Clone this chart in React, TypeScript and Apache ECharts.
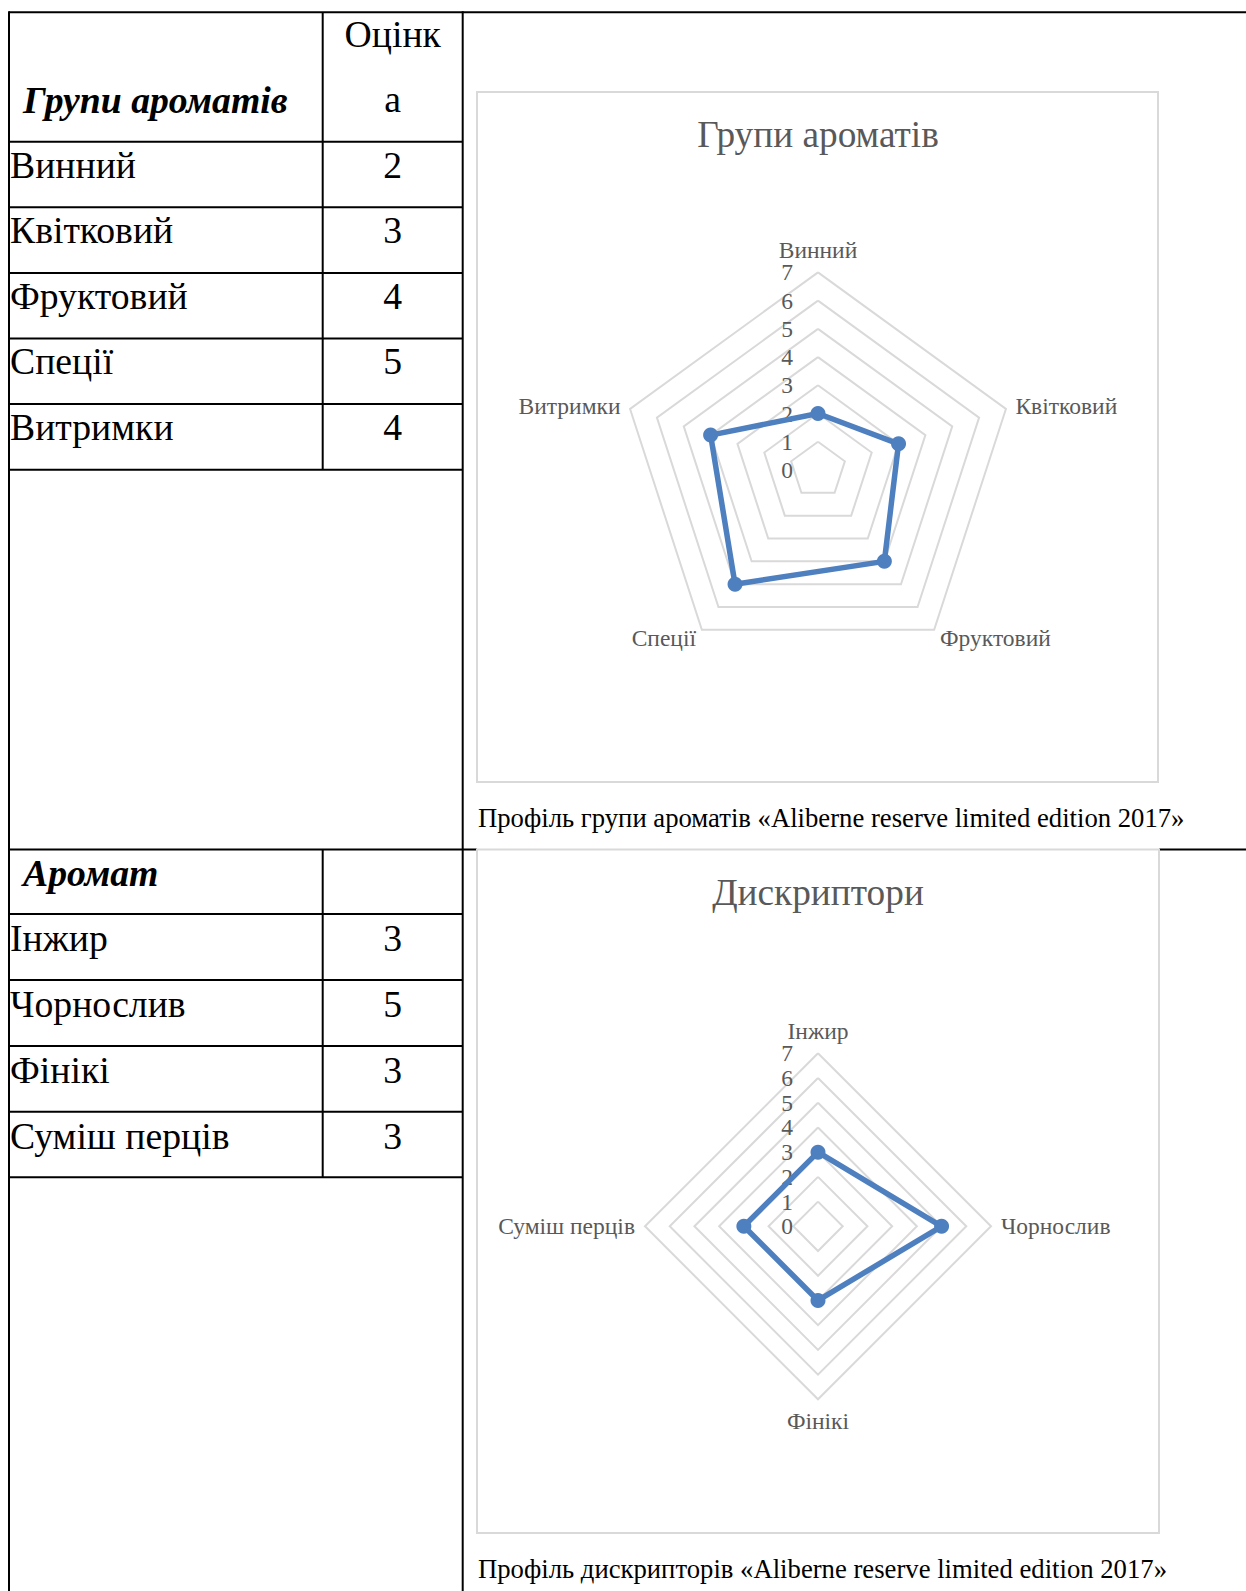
import React, { useEffect, useRef } from 'react';
import * as echarts from 'echarts';

// ---- data ----
const aromaGroups = ['Винний', 'Квітковий', 'Фруктовий', 'Спеції', 'Витримки'];
const aromaGroupScores = [2, 3, 4, 5, 4];
const descriptorNames = ['Інжир', 'Чорнослив', 'Фінікі', 'Суміш перців'];
const descriptorScores = [3, 5, 3, 3];
const scaleMin = 0;
const scaleMax = 7;

const groupsHeader = 'Групи ароматів';
const scoreHeaderLines = ['Оцінк', 'а'];
const descriptorHeader = 'Аромат';
const groupsTitle = 'Групи ароматів';
const descriptorsTitle = 'Дискриптори';
const groupsCaption = 'Профіль групи ароматів «Aliberne reserve limited edition 2017»';
const descriptorsCaption = 'Профіль дискрипторів «Aliberne reserve limited edition 2017»';

// ---- layout ----
const PAGE_W = 1246;
const PAGE_H = 1591;
const SERIF = '"Liberation Serif", "Times New Roman", serif';
const GRAY = '#595959';
const GRID_GRAY = '#D9D9D9';
const BLUE = '#4E7FBF';

const X_LEFT = 9;
const X_MID = 322.7;
const X_RIGHT = 462.7;
const VALUE_X = (X_MID + X_RIGHT) / 2;
const upperRows = [12.3, 141.7, 207.3, 272.9, 338.5, 404.1, 469.7];
const lowerRows = [849.5, 914, 980, 1046, 1111.7, 1177.3];
const TABLE_FONT = 37.7;
const TITLE_FONT = 37.3;
const LABEL_FONT = 23.5;
const CAPTION_FONT = 26.7;

const panels = [
  {
    names: aromaGroups,
    values: aromaGroupScores,
    cx: 818,
    cy: 470,
    r: 197.6,
    box: { x: 477, y: 92, w: 681, h: 690 },
    title: groupsTitle,
    titleY: 134.2,
    caption: groupsCaption,
    captionY: 818,
  },
  {
    names: descriptorNames,
    values: descriptorScores,
    cx: 818,
    cy: 1226.3,
    r: 173,
    box: { x: 477, y: 849.5, w: 682, h: 683.5 },
    title: descriptorsTitle,
    titleY: 892,
    caption: descriptorsCaption,
    captionY: 1569,
  },
];

// radar indicators run clockwise from the top
const clockwise = <T,>(arr: T[]): T[] => [arr[0], ...arr.slice(1).reverse()];

const blackLine = (x1: number, y1: number, x2: number, y2: number) => ({
  type: 'line',
  silent: true,
  shape: { x1, y1, x2, y2 },
  style: { stroke: '#000', lineWidth: 2 },
});

const text = (
  content: string,
  x: number,
  y: number,
  opts: { size?: number; align?: string; weight?: string; italic?: boolean; color?: string } = {}
) => ({
  type: 'text',
  silent: true,
  x,
  y,
  style: {
    text: content,
    fill: opts.color || '#000',
    fontSize: opts.size || TABLE_FONT,
    fontFamily: SERIF,
    fontWeight: opts.weight || 'normal',
    fontStyle: opts.italic ? 'italic' : 'normal',
    align: opts.align || 'left',
    verticalAlign: 'middle',
  },
});

function buildGraphic() {
  const els: any[] = [];
  // table frame
  els.push(blackLine(X_LEFT, upperRows[0], PAGE_W, upperRows[0]));
  els.push(blackLine(X_LEFT, upperRows[0] - 1, X_LEFT, PAGE_H));
  els.push(blackLine(X_RIGHT, upperRows[0] - 1, X_RIGHT, PAGE_H));
  els.push(blackLine(X_MID, upperRows[0], X_MID, upperRows[upperRows.length - 1]));
  els.push(blackLine(X_MID, lowerRows[0], X_MID, lowerRows[lowerRows.length - 1]));
  upperRows.slice(1).forEach((y) => els.push(blackLine(X_LEFT, y, X_RIGHT, y)));
  els.push(blackLine(X_LEFT, lowerRows[0], panels[1].box.x, lowerRows[0]));
  els.push(blackLine(panels[1].box.x + panels[1].box.w, lowerRows[0], PAGE_W, lowerRows[0]));
  lowerRows.slice(1).forEach((y) => els.push(blackLine(X_LEFT, y, X_RIGHT, y)));

  // table headers
  els.push(text(groupsHeader, 23, 99.5, { weight: 'bold', italic: true }));
  els.push(text(scoreHeaderLines[0], VALUE_X, 33.5, { align: 'center' }));
  els.push(text(scoreHeaderLines[1], VALUE_X, 98.5, { align: 'center' }));
  els.push(text(descriptorHeader, 23, lowerRows[0] + 23.3, { weight: 'bold', italic: true }));

  // table rows
  aromaGroups.forEach((name, i) => {
    const y = upperRows[i + 1] + 22.8;
    els.push(text(name, 10, y));
    els.push(text(String(aromaGroupScores[i]), VALUE_X, y, { align: 'center' }));
  });
  descriptorNames.forEach((name, i) => {
    const y = lowerRows[i + 1] + 24.2;
    els.push(text(name, 10, y));
    els.push(text(String(descriptorScores[i]), VALUE_X, y, { align: 'center' }));
  });

  // chart frames, titles, captions
  panels.forEach((p) => {
    els.push({
      type: 'rect',
      silent: true,
      shape: { x: p.box.x, y: p.box.y, width: p.box.w, height: p.box.h },
      style: { fill: 'none', stroke: GRID_GRAY, lineWidth: 2 },
    });
    els.push(text(p.title, p.cx, p.titleY, { align: 'center', color: GRAY, size: TITLE_FONT }));
    els.push(text(p.caption, 478, p.captionY, { size: CAPTION_FONT }));
  });
  return els;
}

function buildOption(): any {
  return {
    animation: false,
    backgroundColor: '#fff',
    graphic: { elements: buildGraphic() },
    radar: panels.map((p) => ({
      center: [p.cx, p.cy],
      radius: p.r,
      startAngle: 90,
      shape: 'polygon',
      splitNumber: scaleMax - scaleMin,
      nameGap: 10,
      indicator: clockwise(p.names).map((name) => ({ name, min: scaleMin, max: scaleMax })),
      axisName: { color: GRAY, fontSize: LABEL_FONT, fontFamily: SERIF },
      axisLine: { show: false },
      axisTick: { show: false },
      axisLabel: { show: false },
      splitArea: { show: false },
      splitLine: { show: true, lineStyle: { color: GRID_GRAY, width: 2 } },
    })),
    // value scale printed along the top spoke of each radar
    grid: panels.map((p) => ({
      left: p.cx,
      top: p.cy - p.r,
      width: 10,
      height: p.r,
      containLabel: false,
    })),
    xAxis: panels.map((_, i) => ({ gridIndex: i, type: 'value', show: false })),
    yAxis: panels.map((_, i) => ({
      gridIndex: i,
      type: 'value',
      min: scaleMin,
      max: scaleMax,
      interval: 1,
      axisLine: { show: false },
      axisTick: { show: false },
      splitLine: { show: false },
      axisLabel: { color: GRAY, fontSize: LABEL_FONT, fontFamily: SERIF, margin: 25 },
    })),
    series: panels.map((p, i) => ({
      type: 'radar',
      radarIndex: i,
      silent: true,
      symbol: 'circle',
      symbolSize: 15,
      lineStyle: { color: BLUE, width: 5.5 },
      itemStyle: { color: BLUE },
      data: [{ value: clockwise(p.values), name: p.title }],
    })),
  };
}

export default function App() {
  const ref = useRef<HTMLDivElement>(null);
  useEffect(() => {
    const el = ref.current;
    if (!el) return;
    const chart = echarts.init(el, null, { renderer: 'svg' });
    chart.setOption(buildOption());
    return () => chart.dispose();
  }, []);
  return (
    <div
      ref={ref}
      style={{ position: 'absolute', left: 0, top: 0, width: PAGE_W, height: PAGE_H, background: '#fff' }}
    />
  );
}
